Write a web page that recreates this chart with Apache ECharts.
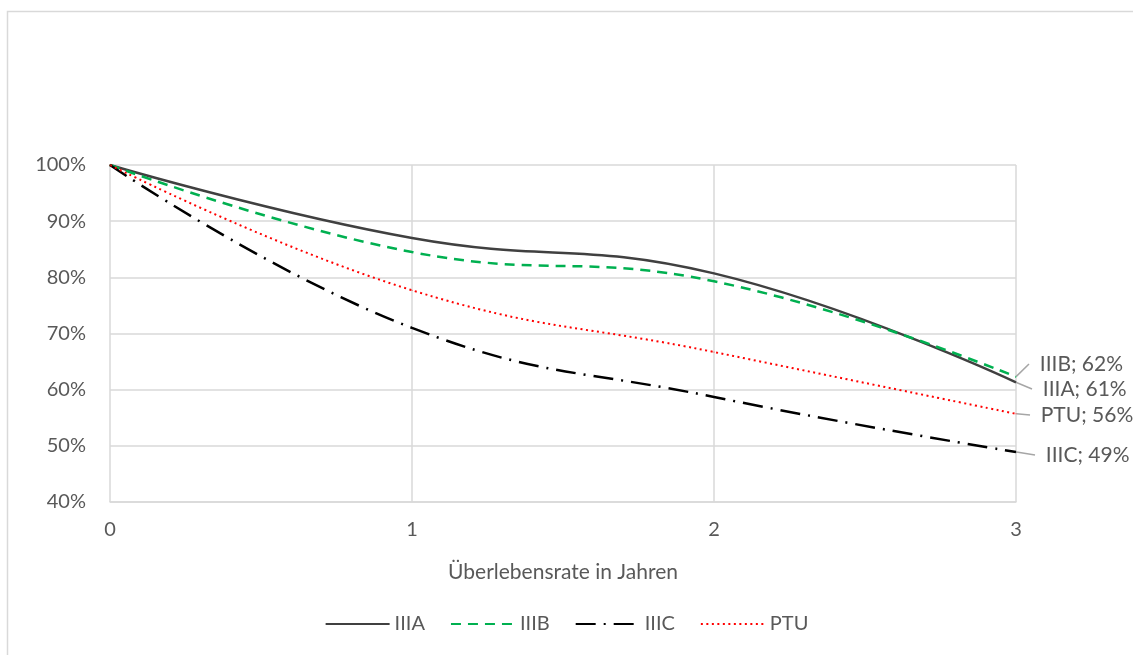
<!DOCTYPE html>
<html>
<head>
<meta charset="utf-8">
<script src="https://cdn.jsdelivr.net/npm/echarts@6/dist/echarts.min.js"></script>
<style>
  html, body { margin: 0; padding: 0; background: #fff; }
  #chart { width: 1133px; height: 655px; }
</style>
</head>
<body>
<div id="chart"></div>
<script>
// Jahre (x-Werte)
const years = [0, 1, 2, 3];
const seriesNames = ['IIIA', 'IIIB', 'IIIC', 'PTU'];
// Überlebensraten je Stadium
const valsIIIA = [1.0, 0.87, 0.807, 0.613];
const valsIIIB = [1.0, 0.845, 0.793, 0.623];
const valsIIIC = [1.0, 0.71, 0.587, 0.489];
const valsPTU = [1.0, 0.777, 0.667, 0.557];
// y-Achse
const yTicks = [0.4, 0.5, 0.6, 0.7, 0.8, 0.9, 1.0];

const chart = echarts.init(document.getElementById('chart'));
const font = 'Lato, "Open Sans", sans-serif';
const txtColor = '#595959';

// Position der Endbeschriftungen (rechts neben x=3)
const labelPos = {
  IIIA: { x: 1032, y: 389 },
  IIIB: { x: 1029, y: 364 },
  IIIC: { x: 1035, y: 455 },
  PTU: { x: 1030, y: 415 },
};

function mkSeries(name, vals, color, width, dash) {
  return {
    name: name,
    type: 'line',
    smooth: 0.45,
    symbol: 'circle',
    symbolSize: 1,
    showSymbol: true,
    itemStyle: { color: color },
    lineStyle: { color: color, width: width, type: dash },
    emphasis: { disabled: true },
    data: years.map((x, i) => {
      const item = { value: [x, vals[i]] };
      if (i === years.length - 1) {
        item.label = {
          show: true,
          formatter: p => '\u00a0\u00a0' + p.seriesName + '; ' + Math.round(p.value[1] * 100) + '%',
        };
      }
      return item;
    }),
    label: {
      show: false,
      color: txtColor,
      fontFamily: font,
      fontSize: 21,
    },
    labelLine: {
      show: true,
      lineStyle: { color: '#a6a6a6', width: 1.5 },
    },
    labelLayout: () => ({
      x: labelPos[name].x,
      y: labelPos[name].y,
      align: 'left',
      verticalAlign: 'middle',
    }),
  };
}

const option = {
  backgroundColor: '#fff',
  animation: false,
  textStyle: { fontFamily: font },
  graphic: [
    {
      type: 'rect',
      shape: { x: 7.5, y: 11.5, width: 1200, height: 700 },
      style: { fill: 'none', stroke: '#d9d9d9', lineWidth: 1.5 },
      silent: true,
    },
  ],
  grid: { left: 110, right: 117, top: 165, bottom: 153 },
  legend: {
    bottom: 16,
    left: 'center',
    itemWidth: 64,
    itemHeight: 14,
    itemGap: 25,
    itemStyle: { opacity: 0 },
    textStyle: { color: txtColor, fontSize: 20, fontFamily: font },
    data: seriesNames,
  },
  xAxis: {
    type: 'value',
    min: 0,
    max: 3,
    interval: 1,
    name: 'Überlebensrate in Jahren',
    nameLocation: 'middle',
    nameGap: 60,
    nameTextStyle: { color: txtColor, fontSize: 21, fontFamily: font },
    axisLine: { show: true, lineStyle: { color: '#d9d9d9', width: 1.5 } },
    axisTick: { show: false },
    axisLabel: { color: txtColor, fontSize: 20, margin: 18 },
    splitLine: { show: true, lineStyle: { color: '#d9d9d9', width: 1.5 } },
  },
  yAxis: {
    type: 'value',
    min: yTicks[0],
    max: yTicks[yTicks.length - 1],
    interval: 0.1,
    axisLine: { show: false },
    axisTick: { show: false },
    axisLabel: {
      color: txtColor,
      fontSize: 20,
      margin: 24,
      formatter: v => Math.round(v * 100) + '%',
    },
    splitLine: { show: true, lineStyle: { color: '#d9d9d9', width: 1.5 } },
  },
  series: [
    mkSeries('IIIA', valsIIIA, '#404040', 2.5, 'solid'),
    mkSeries('IIIB', valsIIIB, '#00b050', 2.5, [10, 7]),
    mkSeries('IIIC', valsIIIC, '#000000', 2.5, [20, 8, 2, 8]),
    mkSeries('PTU', valsPTU, '#ff0000', 2, [2, 3.5]),
  ],
};

chart.setOption(option);
window.onresize = function() {
  chart.resize();
};
</script>
</body>
</html>
